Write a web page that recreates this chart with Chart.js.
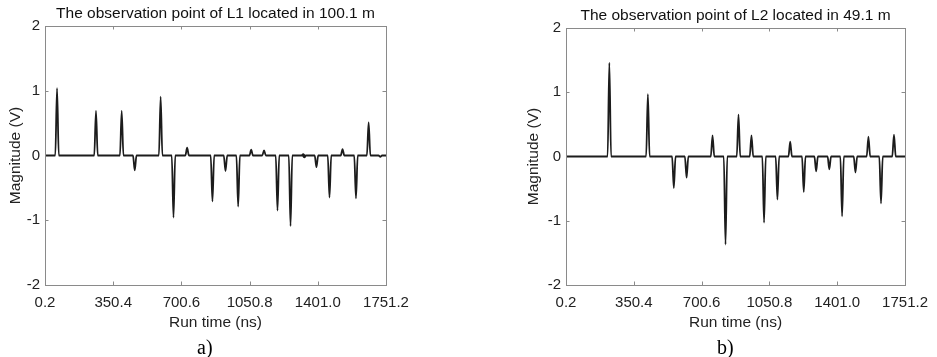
<!DOCTYPE html>
<html>
<head>
<meta charset="utf-8">
<script src="https://cdn.jsdelivr.net/npm/chart.js@4.4.1/dist/chart.umd.min.js"></script>
<style>
    html, body { margin: 0; padding: 0; background: #fff; }
    #page { position: relative; width: 937px; height: 357px; overflow: hidden; }
    .plot { position: absolute; top: 0; height: 357px; }
    .sub { position: absolute; font-family: "Liberation Serif", "Times New Roman", serif; font-size: 20px; color: #000; line-height: 20px; }
</style>
</head>
<body>
<div id="page">
    <div class="plot" style="left:0px; width:468px;"><canvas id="chartL1"></canvas></div>
    <div class="plot" style="left:467px; width:470px;"><canvas id="chartL2"></canvas></div>
    <div class="sub" style="left:197px; top:337px;">a)</div>
    <div class="sub" style="left:717px; top:337px;">b)</div>
</div>
<script>
// tick labels
let xTicks = [0.2, 350.4, 700.6, 1050.8, 1401.0, 1751.2];
let yTicks = [-2, -1, 0, 1, 2];

// L1, observation point at 100.1 m: pulse times (ns) and peak magnitudes (V)
let timesL1 = [62, 262, 394, 461, 594, 660, 730, 860, 927, 992, 1059, 1125, 1194, 1261, 1326, 1332, 1394, 1461, 1528, 1597, 1662, 1722];
let valuesL1 = [1.04, 0.69, 0.69, -0.23, 0.91, -0.96, 0.12, -0.71, -0.24, -0.79, 0.09, 0.08, -0.85, -1.09, 0.02, -0.03, -0.18, -0.65, 0.10, -0.66, 0.51, -0.02];

// L2, observation point at 49.1 m
let timesL2 = [224, 423, 557, 623, 757, 824, 891, 958, 1023, 1092, 1158, 1228, 1292, 1360, 1426, 1495, 1562, 1627, 1694];
let valuesL2 = [1.46, 0.97, -0.49, -0.33, 0.33, -1.37, 0.65, 0.33, -1.03, -0.67, 0.23, -0.55, -0.23, -0.20, -0.93, -0.25, 0.31, -0.73, 0.34];

const halfWidth = 9;   // pulse half width in ns

function buildTrace(times, values) {
    let pts = [{ x: xTicks[0], y: 0 }];
    times.forEach(function (t, i) {
        pts.push({ x: t - halfWidth, y: 0 });
        pts.push({ x: t, y: values[i] });
        pts.push({ x: t + halfWidth, y: 0 });
    });
    pts.push({ x: xTicks[xTicks.length - 1], y: 0 });
    return pts;
}

// box around the axes with inward ticks, plus the title, MATLAB style
const boxPlugin = {
    id: 'boxPlugin',
    afterDraw(chart, args, opts) {
        const ctx = chart.ctx;
        const a = chart.chartArea;
        const xs = chart.scales.x;
        const ys = chart.scales.y;
        const tl = 3.5;
        ctx.save();
        ctx.strokeStyle = '#8a8a8a';
        ctx.lineWidth = 1;
        ctx.strokeRect(Math.round(a.left) + 0.5, Math.round(a.top) + 0.5, Math.round(a.right - a.left), Math.round(a.bottom - a.top));
        ctx.beginPath();
        xTicks.forEach(function (v) {
            const px = Math.round(xs.getPixelForValue(v)) + 0.5;
            ctx.moveTo(px, a.bottom); ctx.lineTo(px, a.bottom - tl);
            ctx.moveTo(px, a.top); ctx.lineTo(px, a.top + tl);
        });
        yTicks.forEach(function (v) {
            const py = Math.round(ys.getPixelForValue(v)) + 0.5;
            ctx.moveTo(a.left, py); ctx.lineTo(a.left + tl, py);
            ctx.moveTo(a.right, py); ctx.lineTo(a.right - tl, py);
        });
        ctx.stroke();

        ctx.fillStyle = '#111';
        ctx.font = '15.5px "Liberation Sans", Arial, sans-serif';
        ctx.textAlign = 'center';
        ctx.textBaseline = 'middle';
        ctx.fillText(opts.text, (a.left + a.right) / 2, a.top - 12);
        ctx.restore();
    }
};

function makeChart(id, title, times, values, pad, yWidth) {
    const ctx = document.getElementById(id).getContext('2d');
    return new Chart(ctx, {
        type: 'line',
        data: {
            datasets: [{
                data: buildTrace(times, values),
                borderColor: '#1c1c1c',
                borderWidth: 1.8,
                borderJoinStyle: 'round',
                pointRadius: 0,
                cubicInterpolationMode: 'monotone',
                fill: false
            }]
        },
        options: {
            responsive: true,
            maintainAspectRatio: false,
            animation: false,
            layout: { padding: pad },
            scales: {
                x: {
                    type: 'linear',
                    min: xTicks[0],
                    max: xTicks[xTicks.length - 1],
                    afterBuildTicks: function (scale) {
                        scale.ticks = xTicks.map(v => ({ value: v }));
                    },
                    afterFit: function (scale) {
                        scale.height = 51;
                    },
                    grid: { display: false, drawTicks: false },
                    border: { display: false },
                    ticks: {
                        autoSkip: false,
                        maxRotation: 0,
                        padding: 9,
                        color: '#222',
                        font: { family: '"Liberation Sans", Arial, sans-serif', size: 15 },
                        callback: v => Number(v).toFixed(1)
                    },
                    title: {
                        display: true,
                        text: 'Run time (ns)',
                        color: '#222',
                        padding: { top: 4, bottom: 4 },
                        font: { family: '"Liberation Sans", Arial, sans-serif', size: 15.5 }
                    }
                },
                y: {
                    min: yTicks[0],
                    max: yTicks[yTicks.length - 1],
                    afterBuildTicks: function (scale) {
                        scale.ticks = yTicks.map(v => ({ value: v }));
                    },
                    afterFit: function (scale) {
                        scale.width = yWidth;
                    },
                    grid: { display: false, drawTicks: false },
                    border: { display: false },
                    ticks: {
                        padding: 5,
                        color: '#222',
                        font: { family: '"Liberation Sans", Arial, sans-serif', size: 15 },
                        callback: v => String(v)
                    },
                    title: {
                        display: true,
                        text: 'Magnitude (V)',
                        color: '#222',
                        padding: { top: 6, bottom: 4 },
                        font: { family: '"Liberation Sans", Arial, sans-serif', size: 15.5 }
                    }
                }
            },
            plugins: {
                legend: { display: false },
                tooltip: { enabled: false },
                title: { display: false },
                boxPlugin: { text: title }
            }
        },
        plugins: [boxPlugin]
    });
}

makeChart('chartL1', 'The observation point of L1 located in 100.1 m', timesL1, valuesL1,
    { left: 0, right: 82, top: 26, bottom: 21 }, 45);
makeChart('chartL2', 'The observation point of L2 located in 49.1 m', timesL2, valuesL2,
    { left: 51, right: 31, top: 28, bottom: 21 }, 48);
</script>
</body>
</html>
